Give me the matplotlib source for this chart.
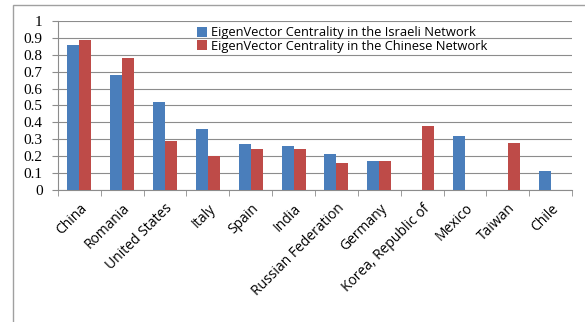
import matplotlib
matplotlib.use("Agg")
import matplotlib.pyplot as plt
from matplotlib.patches import Rectangle
import numpy as np

countries = ["China", "Romania", "United States", "Italy", "Spain", "India",
             "Russian Federation", "Germany", "Korea, Republic of", "Mexico",
             "Taiwan", "Chile"]
israeli = [0.86, 0.68, 0.52, 0.36, 0.27, 0.26, 0.21, 0.17, 0.0, 0.32, 0.0, 0.11]
chinese = [0.89, 0.78, 0.29, 0.20, 0.24, 0.24, 0.16, 0.17, 0.38, 0.0, 0.28, 0.0]
y_ticks = [0, 0.1, 0.2, 0.3, 0.4, 0.5, 0.6, 0.7, 0.8, 0.9, 1]

blue = "#4a7ebb"
red = "#be4b48"

fig = plt.figure(figsize=(5.85, 3.22), dpi=100)
fig.patches.append(Rectangle((13 / 585, -0.1), 1.2, 1.1 - 5 / 322,
                             transform=fig.transFigure, fill=False,
                             edgecolor="#a0a0a0", linewidth=1.0))
ax = fig.add_axes([0.099, 0.41, 0.879, 0.525])

x = np.arange(len(countries))
w = 0.28
ax.bar(x - w / 2, israeli, w, color=blue,
       label="EigenVector Centrality in the Israeli Network", zorder=3)
ax.bar(x + w / 2, chinese, w, color=red,
       label="EigenVector Centrality in the Chinese Network", zorder=3)

ax.set_xlim(-0.5, len(countries) - 0.5)
ax.set_ylim(0, 1)
ax.set_yticks(y_ticks)
ax.set_yticklabels([("%g" % v) for v in y_ticks], fontfamily="Liberation Serif",
                   fontsize=11)
ax.yaxis.grid(True, color="#8c8c8c", linewidth=0.8, zorder=0)
ax.set_xticks(x)
ax.set_xticklabels(countries, rotation=45, ha="right", rotation_mode="anchor",
                   fontfamily="Open Sans", fontsize=10)
ax.tick_params(axis="x", length=0, pad=8)
ax.set_xticks(np.arange(len(countries) + 1) - 0.5, minor=True)
ax.tick_params(axis="x", which="minor", length=4, color="#8c8c8c")
ax.tick_params(axis="y", length=4, color="#8c8c8c", pad=7)

for s in ["top", "right"]:
    ax.spines[s].set_visible(False)
for s in ["left", "bottom"]:
    ax.spines[s].set_color("#8c8c8c")

ax.legend(loc="upper left", bbox_to_anchor=(0.26, 1.0), frameon=False,
          prop={"family": "Open Sans", "size": 9.3}, handlelength=0.8,
          handleheight=0.8, handletextpad=0.3, labelspacing=0.05,
          borderaxespad=0)

fig.savefig("out.png", dpi=100)
